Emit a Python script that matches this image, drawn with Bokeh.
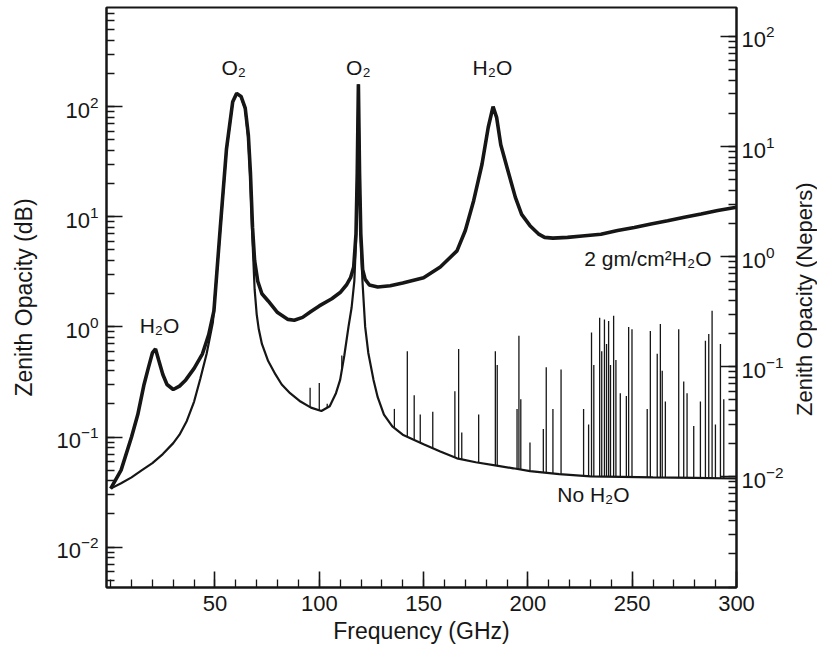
import numpy as np
from bokeh.plotting import figure
from bokeh.layouts import row
from bokeh.models import Range1d, LogAxis, LogScale, FixedTicker, LogTickFormatter
from bokeh.core.properties import value
from bokeh.embed import file_html
from bokeh.resources import INLINE

FONT = "Liberation Sans"
INK = "#161616"

# ---- data ----
freq_dry = [0, 5, 10, 15, 20, 25, 30, 33, 36.5, 40, 43, 46, 49, 52.5, 55.5, 58.5, 60.4,
            62.5, 64.5, 66, 67, 68, 69, 70, 71, 72.5, 75.5, 79, 82, 86, 91, 96, 101, 105,
            108, 110, 112, 114, 115.5, 116.8, 117.6, 118.2, 118.75, 119.3, 119.9, 120.7,
            122, 123.5, 126, 128, 131, 135, 140, 145, 150, 158, 166, 175, 185, 193, 201,
            215, 230, 245, 260, 280, 300]
opacity_dry_db = [0.034, 0.038, 0.043, 0.05, 0.058, 0.07, 0.088, 0.105, 0.14, 0.21, 0.34,
                  0.57, 1.1, 7.5, 40, 110, 131, 122, 95, 50, 20, 6, 2.2, 1.3, 0.95, 0.7,
                  0.49, 0.37, 0.3, 0.25, 0.21, 0.185, 0.172, 0.19, 0.25, 0.33, 0.55, 1.0,
                  1.5, 2.6, 6, 25, 160, 25, 6, 2.6, 1.0, 0.58, 0.33, 0.23, 0.16, 0.125,
                  0.105, 0.095, 0.086, 0.074, 0.064, 0.059, 0.055, 0.052, 0.049, 0.046,
                  0.044, 0.0435, 0.043, 0.0425, 0.042]

freq_wet = [0, 5, 10, 13, 16, 18, 20, 21.5, 23, 25, 27, 30, 33, 36, 40, 44, 47, 49.5, 52.5,
            55.5, 58.5, 60.4, 62.5, 64.5, 66, 67, 68, 69, 70.5, 72.5, 75.5, 80, 85, 88, 92,
            96, 100, 106, 110, 113, 115, 116.5, 117.6, 118.2, 118.75, 119.3, 119.9, 120.8,
            122, 124, 128, 134, 140, 150, 158, 166, 170, 174, 178, 181, 183.3, 185, 187,
            190, 194, 197, 201, 205, 208, 212, 219, 226, 235, 243, 251, 259, 267, 275, 283,
            291, 300]
opacity_wet_db = [0.034, 0.05, 0.1, 0.16, 0.3, 0.42, 0.58, 0.63, 0.5, 0.37, 0.3, 0.27, 0.29,
                  0.33, 0.42, 0.57, 0.85, 1.4, 7.8, 41, 111, 132, 124, 97, 55, 25, 8, 4, 2.6,
                  2.0, 1.72, 1.35, 1.17, 1.15, 1.22, 1.38, 1.55, 1.8, 2.05, 2.4, 2.8, 3.5, 7,
                  25, 160, 25, 7, 3.3, 2.7, 2.4, 2.3, 2.36, 2.5, 2.79, 3.5, 4.9, 7.5, 14, 30,
                  65, 100, 80, 45, 28, 15, 10.5, 8.3, 7.0, 6.5, 6.4, 6.5, 6.7, 6.95, 7.5, 8.0,
                  8.6, 9.2, 9.9, 10.6, 11.4, 12.2]

ozone_freq = [95.6, 100.0, 103.8, 110.8, 136.0, 142.2, 145.5, 148.4, 154.4, 165.0, 166.8,
              168.3, 176.4, 184.4, 185.3, 194.8, 195.7, 196.6, 201.0, 207.4, 208.8, 212.0,
              215.9, 226.7, 229.1, 230.5, 231.6, 234.4, 235.4, 236.7, 237.7, 238.7, 239.6,
              241.1, 242.2, 244.3, 247.2, 248.3, 249.9, 257.2, 258.7, 262.0, 263.5, 264.4,
              265.9, 272.3, 274.7, 276.3, 279.5, 282.7, 285.1, 286.7, 288.3, 289.9, 292.3,
              293.9]
ozone_peak_db = [0.28, 0.31, 0.20, 0.55, 0.18, 0.60, 0.24, 0.16, 0.17, 0.26, 0.63, 0.11,
                 0.16, 0.60, 0.45, 0.18, 0.83, 0.22, 0.089, 0.118, 0.43, 0.18, 0.41, 0.18,
                 0.13, 0.89, 0.45, 1.21, 0.6, 1.17, 0.7, 1.13, 0.45, 1.26, 0.5, 0.25, 0.236,
                 1.0, 0.95, 0.18, 0.92, 0.57, 1.06, 0.4, 0.21, 0.95, 0.32, 0.25, 0.126, 0.21,
                 0.75, 0.86, 1.4, 0.13, 0.70, 0.22]

x_ticks = [50, 100, 150, 200, 250, 300]
x_minor_ticks = list(range(0, 301, 10))
neper_ticks = [0.01, 0.1, 1, 10, 100]
neper_minor_ticks = [k * 10.0 ** e for e in range(-3, 3) for k in range(1, 10)]

label_text = ["O₂", "O₂", "H₂O", "H₂O", "No H₂O"]
label_x = [59, 118.7, 183, 23.4, 231.4]
label_y = [225, 225, 225, 1.04, 0.030]

wet_label = "2 gm/cm²H₂O"
wet_label_x = 288
wet_label_y = 4.2

right_title = "Zenith Opacity (Nepers)"

DB_PER_NEPER = 4.343
Y_MIN, Y_MAX = 0.0043, 795.0

TOTAL_W, H = 817, 653
STRIP_W = 30

# ---- main figure ----
p = figure(width=TOTAL_W - STRIP_W, height=H, x_range=Range1d(-2, 300),
           y_range=Range1d(Y_MIN, Y_MAX), y_axis_type="log", output_backend="svg",
           toolbar_location=None, min_border_left=106, min_border_right=51,
           min_border_top=7, min_border_bottom=66)
p.grid.visible = False
p.outline_line_color = INK
p.outline_line_width = 2
p.background_fill_color = "white"
p.border_fill_color = "white"

p.extra_y_ranges = {"np": Range1d(Y_MIN / DB_PER_NEPER, Y_MAX / DB_PER_NEPER)}
p.extra_y_scales = {"np": LogScale()}
right_axis = LogAxis(y_range_name="np",
                     ticker=FixedTicker(ticks=neper_ticks, minor_ticks=neper_minor_ticks),
                     formatter=LogTickFormatter())
p.add_layout(right_axis, "right")

p.xaxis.ticker = FixedTicker(ticks=x_ticks, minor_ticks=x_minor_ticks)
p.xaxis.axis_label = "Frequency (GHz)"
p.left[0].axis_label = "Zenith Opacity (dB)"

for ax in [p.xaxis[0], p.left[0], right_axis]:
    ax.major_tick_in = 16
    ax.major_tick_out = 0
    ax.minor_tick_in = 8
    ax.minor_tick_out = 0
    ax.axis_line_width = 2
    ax.axis_line_color = INK
    ax.major_tick_line_color = INK
    ax.minor_tick_line_color = INK
    ax.major_tick_line_width = 1.6
    ax.minor_tick_line_width = 1.3
    ax.major_label_text_font = FONT
    ax.major_label_text_font_size = "22px"
    ax.major_label_text_color = INK
    ax.axis_label_text_font = FONT
    ax.axis_label_text_font_size = "23px"
    ax.axis_label_text_font_style = "normal"
    ax.axis_label_text_color = INK
p.xaxis.major_label_standoff = 8
p.xaxis.axis_label_standoff = 4
p.left[0].major_label_standoff = 8
p.left[0].axis_label_standoff = 16
right_axis.major_label_standoff = 5

# ---- ozone lines (from dry curve up to peak) ----
base = 10 ** np.interp(ozone_freq, freq_dry, np.log10(opacity_dry_db))
p.segment(x0=ozone_freq, y0=base, x1=ozone_freq, y1=ozone_peak_db,
          line_color=INK, line_width=1.3)

# ---- curves ----
p.line(freq_dry, opacity_dry_db, line_color=INK, line_width=2.2)
p.line(freq_wet, opacity_wet_db, line_color=INK, line_width=3.6)

# ---- labels ----
p.text(x=label_x, y=label_y, text=label_text, text_font=value(FONT),
       text_font_size="21px", text_align="center", text_baseline="middle",
       text_color=INK)
p.text(x=[wet_label_x], y=[wet_label_y], text=[wet_label], text_font=value(FONT),
       text_font_size="21px", text_align="right", text_baseline="middle",
       text_color=INK)

# ---- narrow strip carrying the right-hand axis title (reads bottom to top) ----
q = figure(width=STRIP_W, height=H, x_range=Range1d(0, STRIP_W), y_range=Range1d(0, H),
           output_backend="svg", toolbar_location=None, min_border=0,
           x_axis_location=None, y_axis_location=None)
q.grid.visible = False
q.outline_line_color = None
q.background_fill_color = "white"
q.border_fill_color = "white"
q.text(x=[STRIP_W * 0.55], y=[H * 0.497], text=[right_title], angle=np.pi / 2,
       text_font=value(FONT), text_font_size="22px", text_align="center",
       text_baseline="middle", text_color=INK)

layout = row(p, q, spacing=0)
open("out.html", "w").write(file_html(layout, INLINE))
